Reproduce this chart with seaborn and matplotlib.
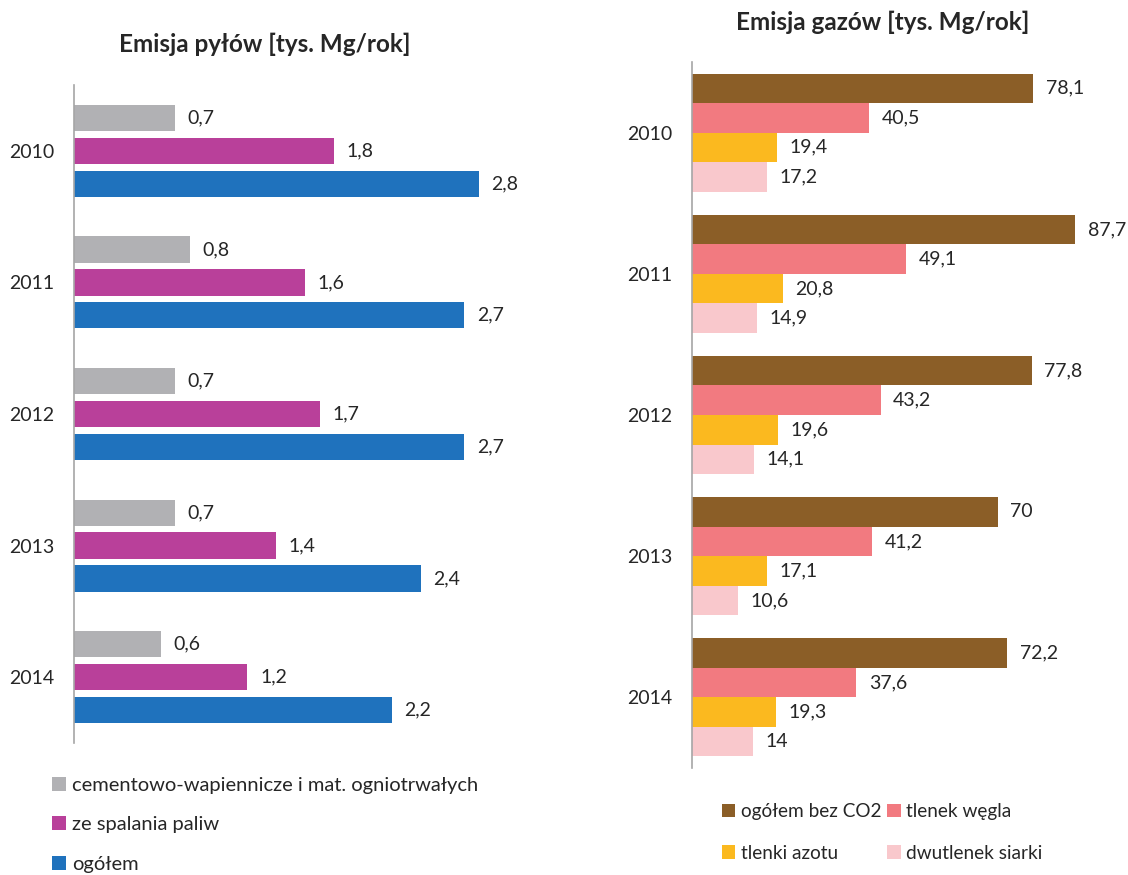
import matplotlib
matplotlib.use("Agg")
import matplotlib.pyplot as plt
import pandas as pd
import seaborn as sns
from matplotlib.patches import Patch

# --- data -------------------------------------------------------------
years = ["2010", "2011", "2012", "2013", "2014"]

dust_series = ["cementowo-wapiennicze i mat. ogniotrwałych", "ze spalania paliw", "ogółem"]
dust_cement = [0.7, 0.8, 0.7, 0.7, 0.6]
dust_fuel = [1.8, 1.6, 1.7, 1.4, 1.2]
dust_total = [2.8, 2.7, 2.7, 2.4, 2.2]
dust_colors = ["#b1b1b4", "#b9409a", "#1f72bd"]

gas_series = ["ogółem bez CO2", "tlenek węgla", "tlenki azotu", "dwutlenek siarki"]
gas_total = [78.1, 87.7, 77.8, 70, 72.2]
gas_co = [40.5, 49.1, 43.2, 41.2, 37.6]
gas_nox = [19.4, 20.8, 19.6, 17.1, 19.3]
gas_so2 = [17.2, 14.9, 14.1, 10.6, 14]
gas_colors = ["#8b5e27", "#f27a80", "#fbb91f", "#f9c8cc"]

dust_title = "Emisja pyłów [tys. Mg/rok]"
gas_title = "Emisja gazów [tys. Mg/rok]"


def long_frame(series_names, series_values):
    rows = []
    for name, values in zip(series_names, series_values):
        for y, v in zip(years, values):
            rows.append({"rok": y, "seria": name, "wartosc": v})
    return pd.DataFrame(rows)


def pl_number(v):
    return f"{v:g}".replace(".", ",")


dust_df = long_frame(dust_series, [dust_cement, dust_fuel, dust_total])
gas_df = long_frame(gas_series, [gas_total, gas_co, gas_nox, gas_so2])

# --- style ------------------------------------------------------------
sns.set_theme(style="white")
plt.rcParams["font.family"] = ["Lato", "DejaVu Sans"]
text_color = "#262626"
spine_color = "#a6a6a6"

fig = plt.figure(figsize=(11.28, 8.75), dpi=100)
W, H = 1128, 875


def px_axes(left, top, right, bottom):
    return fig.add_axes([left / W, 1 - bottom / H, (right - left) / W, (bottom - top) / H])


ax_dust = px_axes(74, 85, 580, 743)
ax_gas = px_axes(692, 62, 1107, 768)


def draw_panel(ax, df, order, colors, width, gap, xmax):
    sns.barplot(
        data=df, y="rok", x="wartosc", hue="seria", order=years,
        hue_order=order, palette=colors, saturation=1, orient="h",
        width=width, gap=gap, errorbar=None, legend=False, linewidth=0, ax=ax,
    )
    for container in ax.containers:
        ax.bar_label(
            container,
            labels=[pl_number(v) for v in container.datavalues],
            padding=9, fontsize=14, color=text_color,
        )
    ax.set_xlim(0, xmax)
    ax.set_xlabel("")
    ax.set_ylabel("")
    ax.set_xticks([])
    for side in ("top", "right", "bottom"):
        ax.spines[side].set_visible(False)
    ax.spines["left"].set_color(spine_color)
    ax.spines["left"].set_linewidth(1.2)
    ax.tick_params(axis="y", length=0, pad=14, labelsize=14, labelcolor=text_color)


draw_panel(ax_dust, dust_df, dust_series, dust_colors, 0.75, 0.2, 3.5)
draw_panel(ax_gas, gas_df, gas_series, gas_colors, 0.836, 0.0, 95)

fig.text(265 / W, 1 - 44 / H, dust_title, ha="center", va="center",
         fontsize=17.5, fontweight="bold", color=text_color)
fig.text(883 / W, 1 - 22 / H, gas_title, ha="center", va="center",
         fontsize=17.5, fontweight="bold", color=text_color)

# --- legends ----------------------------------------------------------
dust_handles = [Patch(facecolor=c, edgecolor="none") for c in dust_colors]
fig.legend(
    dust_handles, dust_series, loc="upper left", bbox_to_anchor=(52 / W, 1 - 777 / H),
    frameon=False, fontsize=14.5, handlelength=0.7, handleheight=0.7,
    handletextpad=0.3, labelspacing=1.1, borderpad=0, borderaxespad=0,
    labelcolor=text_color,
)

# two columns, filled column-wise
gas_idx = [0, 2, 1, 3]
fig.legend(
    [Patch(facecolor=gas_colors[i], edgecolor="none") for i in gas_idx],
    [gas_series[i] for i in gas_idx],
    loc="upper left", bbox_to_anchor=(722 / W, 1 - 803 / H), ncol=2,
    frameon=False, fontsize=13.7, handlelength=0.7, handleheight=0.7,
    handletextpad=0.3, labelspacing=1.3, columnspacing=0.3, borderpad=0,
    borderaxespad=0, labelcolor=text_color,
)

fig.savefig("out.png", dpi=100)
